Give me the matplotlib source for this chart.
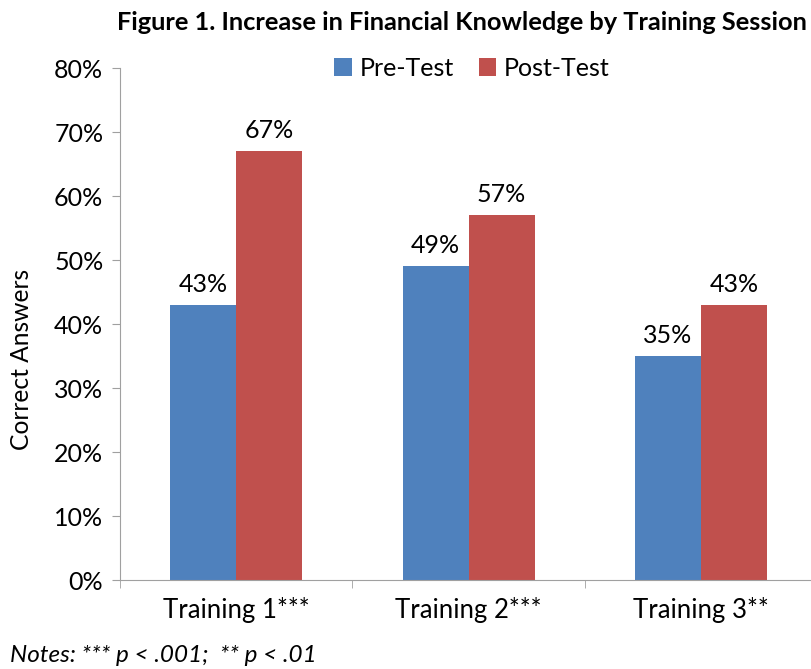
import matplotlib.pyplot as plt
import numpy as np

# data
sessions = ["Training 1***", "Training 2***", "Training 3**"]
pre_test = [43, 49, 35]
post_test = [67, 57, 43]

plt.rcParams['font.family'] = ['Lato', 'DejaVu Sans']

fig = plt.figure(figsize=(8.12, 6.69), dpi=100)
ax = fig.add_axes([120 / 812, 1 - 580 / 669, 692 / 812, 512 / 669])

x = np.arange(len(sessions))
w = 0.284
b1 = ax.bar(x - w / 2, pre_test, w, color="#4F81BD", label="Pre-Test")
b2 = ax.bar(x + w / 2, post_test, w, color="#C0504D", label="Post-Test")

# etiquetas de valor
for bars in (b1, b2):
    for r in bars:
        ax.text(r.get_x() + r.get_width() / 2, r.get_height() + 1.4,
                "%d%%" % r.get_height(), ha="center", va="bottom", fontsize=18)

ax.set_xlim(-0.5, 2.478)
ax.set_ylim(0, 80)
ax.set_yticks(range(0, 81, 10))
ax.set_yticklabels(["%d%%" % v for v in range(0, 81, 10)], fontsize=18)
ax.tick_params(axis="y", length=6, color="#A0A0A0", pad=6)

ax.set_xticks(x)
ax.set_xticklabels(sessions, fontsize=18.5)
ax.tick_params(axis="x", length=0, pad=12)
ax.set_xticks([-0.5, 0.5, 1.5], minor=True)
ax.tick_params(axis="x", which="minor", length=6, color="#A0A0A0")

for s in ("top", "right"):
    ax.spines[s].set_visible(False)
ax.spines["left"].set_color("#A0A0A0")
ax.spines["bottom"].set_color("#A0A0A0")

ax.set_ylabel("Correct Answers", fontsize=17.7)
ax.yaxis.set_label_coords(-0.1257, 0.43)

fig.text(462 / 812, 1 - 22 / 669, "Figure 1. Increase in Financial Knowledge by Training Session",
         ha="center", va="center", fontsize=18.3, fontweight="bold")

ax.legend(loc="center", bbox_to_anchor=(472 / 812, 1 - 68 / 669), bbox_transform=fig.transFigure,
          ncol=2, frameon=False, fontsize=18, handlelength=0.7, handleheight=0.7,
          handletextpad=0.3, columnspacing=1.0)

fig.text(10 / 812, 1 - 655 / 669, "Notes: *** p < .001;  ** p < .01",
         ha="left", va="center", fontsize=17.5, style="italic")

plt.savefig("out.png", dpi=100)
